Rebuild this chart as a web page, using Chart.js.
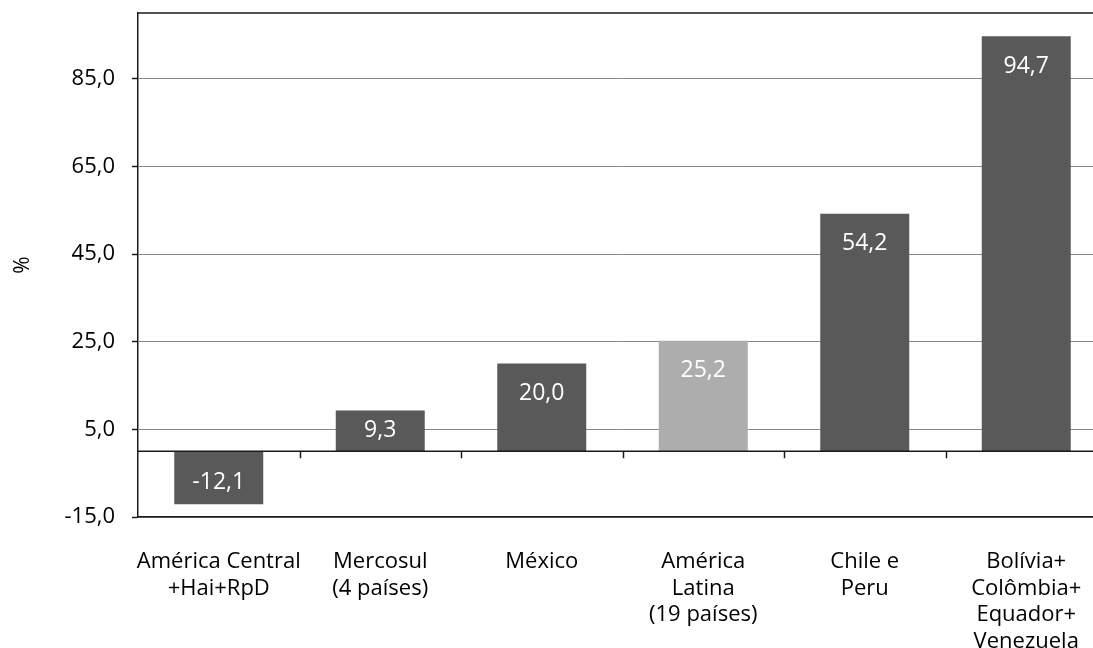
<!DOCTYPE html>
<html>
<head>
<meta charset="utf-8">
<script src="https://cdn.jsdelivr.net/npm/chart.js@4/dist/chart.umd.min.js"></script>
<style>
  html, body { margin: 0; padding: 0; background: #ffffff; overflow: hidden; }
  #wrap { width: 1093px; height: 648px; overflow: hidden; }
  #c { display: block; }
</style>
</head>
<body>
<div id="wrap"><canvas id="c" width="1108" height="648"></canvas></div>
<script>
// Regions (multi-line category labels)
const categories = [
  ["América Central", "+Hai+RpD"],
  ["Mercosul", "(4 países)"],
  ["México"],
  ["América", "Latina", "(19 países)"],
  ["Chile e", "Peru"],
  ["Bolívia+", "Colômbia+", "Equador+", "Venezuela"]
];
// Variation, in %
const values = [-12.1, 9.3, 20.0, 25.2, 54.2, 94.7];
// Bar fills: the regional total is highlighted in light grey
const barColors = ["#595959", "#595959", "#595959", "#ADADAD", "#595959", "#595959"];
// Y-axis tick values
const yTicks = [-15, 5, 25, 45, 65, 85];
const yMin = -15;
const yMax = 100;

const FONT = "'Open Sans', 'Noto Sans', 'DejaVu Sans', sans-serif";
const DARK = "#1a1a1a";

const fmt = v => v.toFixed(1).replace(".", ",");

// Zero line with category separators, top border and value labels
const decor = {
  id: "decor",
  afterDatasetsDraw(chart) {
    const { ctx, chartArea: a, scales } = chart;
    const x = scales.x, y = scales.y;
    const y0 = y.getPixelForValue(0);
    ctx.save();
    ctx.strokeStyle = DARK;
    ctx.lineWidth = 1.5;
    // top border
    ctx.beginPath();
    ctx.moveTo(a.left, a.top);
    ctx.lineTo(a.right, a.top);
    ctx.stroke();
    // zero line
    ctx.beginPath();
    ctx.moveTo(a.left, y0);
    ctx.lineTo(a.right, y0);
    ctx.stroke();
    // separators between categories, hanging below the zero line
    const n = categories.length;
    ctx.beginPath();
    for (let i = 1; i < n; i++) {
      const px = Math.round((x.getPixelForValue(i - 1) + x.getPixelForValue(i)) / 2) + 0.5;
      ctx.moveTo(px, y0);
      ctx.lineTo(px, y0 + 7);
    }
    ctx.stroke();

    // value labels inside bar ends
    const meta = chart.getDatasetMeta(0);
    ctx.fillStyle = "#ffffff";
    ctx.font = "23px " + FONT;
    ctx.textAlign = "center";
    ctx.textBaseline = "middle";
    meta.data.forEach((bar, i) => {
      const v = values[i];
      const h = Math.abs(bar.base - bar.y);
      let cy;
      if (v >= 0) cy = bar.y + Math.min(30, h / 2);
      else cy = bar.y - Math.min(22, h / 2);
      ctx.fillText(fmt(v), bar.x, cy);
    });
    ctx.restore();
  }
};

new Chart(document.getElementById("c"), {
  type: "bar",
  data: {
    labels: categories,
    datasets: [{
      data: values,
      backgroundColor: barColors,
      borderWidth: 0,
      barPercentage: 0.551,
      categoryPercentage: 1.0
    }]
  },
  options: {
    responsive: false,
    animation: false,
    events: [],
    layout: { padding: { top: 13, right: 1, left: 0, bottom: 0 } },
    plugins: {
      legend: { display: false },
      tooltip: { enabled: false }
    },
    scales: {
      x: {
        type: "category",
        grid: { display: false, drawTicks: false },
        border: { display: true, color: DARK, width: 1.5 },
        ticks: {
          color: "#000000",
          padding: 31,
          maxRotation: 0,
          autoSkip: false,
          font: { family: FONT, size: 22, lineHeight: 1.22 }
        },
        afterFit(s) { s.height = 131; s.paddingLeft = 0; s.paddingRight = 0; }
      },
      y: {
        min: yMin,
        max: yMax,
        afterBuildTicks(s) { s.ticks = yTicks.map(v => ({ value: v })); },
        grid: {
          color: "#888888",
          lineWidth: 1,
          tickLength: 6,
          tickColor: DARK,
          tickWidth: 1.5
        },
        border: { display: true, color: DARK, width: 1.5 },
        ticks: {
          color: "#000000",
          padding: 17,
          font: { family: FONT, size: 22 },
          callback: v => fmt(v)
        },
        title: {
          display: true,
          text: "%",
          color: "#000000",
          padding: { top: 10, bottom: 0 },
          font: { family: FONT, size: 21 }
        },
        afterFit(s) { s.width = 138; s.paddingTop = 0; s.paddingBottom = 0; }
      }
    }
  },
  plugins: [decor]
});
</script>
</body>
</html>
